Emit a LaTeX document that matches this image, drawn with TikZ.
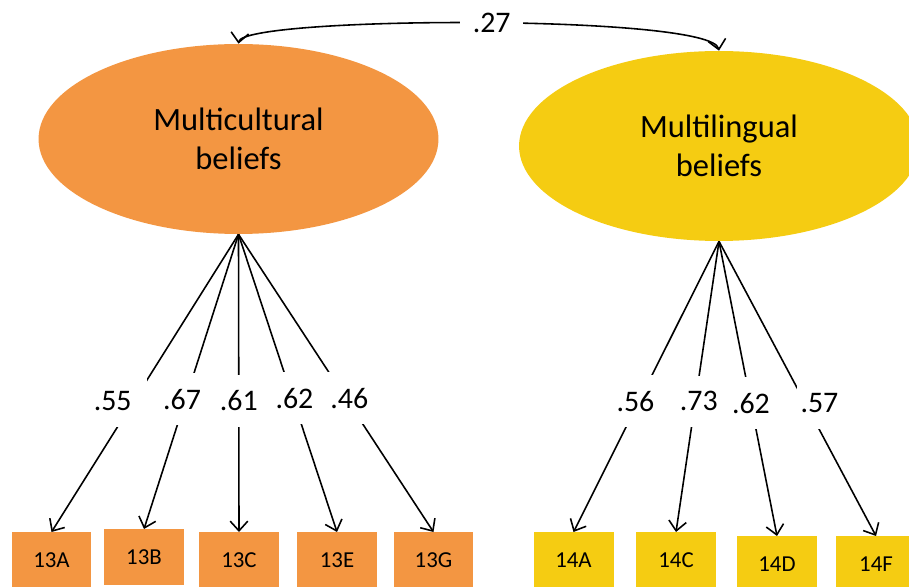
\documentclass[tikz,border=0pt]{standalone}
\usepackage{fontspec}
\setmainfont{Carlito}
\usepackage{tikz}
\usetikzlibrary{shapes.geometric, arrows.meta, positioning}

\definecolor{mcorange}{HTML}{F39642}
\definecolor{mlyellow}{HTML}{F5CC12}

\tikzset{
  latent/.style={ellipse, inner sep=0pt, minimum width=8cm, minimum height=3.8cm,
    align=center, font=\fontsize{18.5}{22}\selectfont},
  item/.style={rectangle, anchor=north, inner sep=0pt, minimum width=1.6cm,
    minimum height=1.12cm, font=\fontsize{13}{15}\selectfont},
  load/.style={line width=0.9pt, -{Straight Barb[length=5.5pt,width=10pt]}},
  lbl/.style={fill=white, inner xsep=2pt, inner ysep=9pt, font=\fontsize{17}{19}\selectfont}
}

\begin{document}
\begin{tikzpicture}[x=0.02cm, y=-0.02cm]
            \useasboundingbox (0,0) rectangle (909,587);
            % factors
            \node[latent, fill=mcorange] (mc) at (238.5,139) {Multicultural\\beliefs};
            \node[latent, fill=mlyellow] (ml) at (719,146) {Multilingual\\beliefs};
            % correlation
            \draw[line width=0.9pt, {Straight Barb[length=5.5pt,width=10pt]}-{Straight Barb[length=5.5pt,width=10pt]}]
                (mc.north) .. controls (242,16) and (712,14) .. (ml.north)
                node[pos=.52, fill=white, inner xsep=7pt, font=\fontsize{17}{19}\selectfont] {.27};
            % items
            \node[item, fill=mcorange] (b13A) at (51.5,532) {13A};
            \node[item, fill=mcorange] (b13B) at (144,529) {13B};
            \node[item, fill=mcorange] (b13C) at (239,532) {13C};
            \node[item, fill=mcorange] (b13E) at (337,532) {13E};
            \node[item, fill=mcorange] (b13G) at (433.5,532) {13G};
            \node[item, fill=mlyellow] (b14A) at (573.5,532) {14A};
            \node[item, fill=mlyellow] (b14C) at (676,532) {14C};
            \node[item, fill=mlyellow] (b14D) at (777,536) {14D};
            \node[item, fill=mlyellow] (b14F) at (876,536) {14F};
            % loadings
            \draw[load] (mc.south) -- (b13A.north) node[lbl, pos=.56, xshift=-12pt, inner xsep=9pt] {.55};
            \draw[load] (mc.south) -- (b13B.north) node[lbl, pos=.56, xshift=-2pt] {.67};
            \draw[load] (mc.south) -- (b13C.north) node[lbl, pos=.56] {.61};
            \draw[load] (mc.south) -- (b13E.north) node[lbl, pos=.55, xshift=1pt] {.62};
            \draw[load] (mc.south) -- (b13G.north) node[lbl, pos=.55, xshift=2pt] {.46};
            \draw[load] (ml.south) -- (b14A.north) node[lbl, pos=.55, xshift=-2pt] {.56};
            \draw[load] (ml.south) -- (b14C.north) node[lbl, pos=.55, xshift=2pt] {.73};
            \draw[load] (ml.south) -- (b14D.north) node[lbl, pos=.55] {.62};
            \draw[load] (ml.south) -- (b14F.north) node[lbl, pos=.55, xshift=8pt] {.57};
        \end{tikzpicture}
\end{document}
